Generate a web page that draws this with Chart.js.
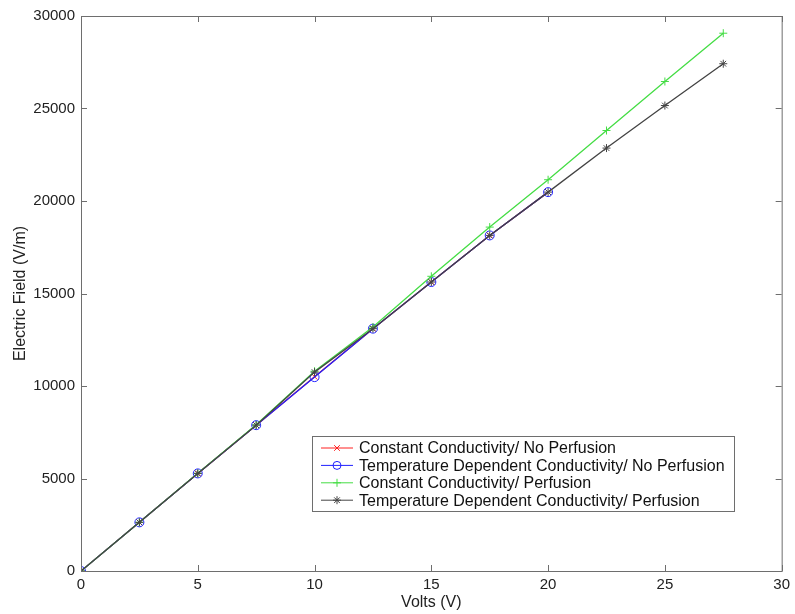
<!DOCTYPE html>
<html>
<head>
<meta charset="utf-8">
<script src="https://cdn.jsdelivr.net/npm/chart.js@4.4.1/dist/chart.umd.min.js"></script>
<style>
  html, body { margin: 0; padding: 0; background: #fff; }
  #fieldChart { display: block; }
</style>
</head>
<body>
<canvas id="fieldChart" width="795" height="614"></canvas>
<script>
// volts applied (x) and electric field (V/m)
const volts = [0, 2.5, 5, 7.5, 10, 12.5, 15, 17.5, 20, 22.5, 25, 27.5];
const constNoPerf = [0, 2630, 5276, 7884, 10500, 13100, 15620, 18140, 20480];
const tempNoPerf = [0, 2630, 5276, 7884, 10480, 13100, 15620, 18140, 20480];
const constPerf = [0, 2630, 5280, 7900, 10800, 13190, 15930, 18590, 21150, 23810, 26460, 29070];
const tempPerf = [0, 2630, 5276, 7884, 10750, 13100, 15620, 18140, 20480, 22860, 25160, 27420];

const seriesNames = [
    'Constant Conductivity/ No Perfusion',
    'Temperature Dependent Conductivity/ No Perfusion',
    'Constant Conductivity/ Perfusion',
    'Temperature Dependent Conductivity/ Perfusion'
];
const xTicks = [0, 5, 10, 15, 20, 25, 30];
const yTicks = [0, 5000, 10000, 15000, 20000, 25000, 30000];

const colors = ['#ff2020', '#2020ff', '#45dd45', '#444444'];
const markers = ['crossRot', 'circle', 'cross', 'star'];

function toPoints(ys) {
    return ys.map((y, i) => ({ x: volts[i], y: y }));
}

const allSeries = [constNoPerf, tempNoPerf, constPerf, tempPerf];

Chart.defaults.font.family = '"Liberation Sans", Arial, sans-serif';
Chart.defaults.font.size = 15;
Chart.defaults.color = '#222';

// matlab style: closed box with inward ticks on all four sides
const boxPlugin = {
    id: 'boxPlugin',
    afterDraw(chart) {
        const ctx = chart.ctx;
        const a = chart.chartArea;
        const xs = chart.scales.x, ys = chart.scales.y;
        ctx.save();
        ctx.strokeStyle = '#6e6e6e';
        ctx.lineWidth = 1;
        ctx.strokeRect(a.left + 0.5, a.top + 0.5, a.right - a.left, a.bottom - a.top);
        ctx.beginPath();
        xTicks.forEach(v => {
            const px = Math.round(xs.getPixelForValue(v)) + 0.5;
            ctx.moveTo(px, a.bottom); ctx.lineTo(px, a.bottom - 6);
            ctx.moveTo(px, a.top); ctx.lineTo(px, a.top + 6);
        });
        yTicks.forEach(v => {
            const py = Math.round(ys.getPixelForValue(v)) + 0.5;
            ctx.moveTo(a.left, py); ctx.lineTo(a.left + 6, py);
            ctx.moveTo(a.right, py); ctx.lineTo(a.right - 6, py);
        });
        ctx.stroke();
        ctx.restore();
    }
};

function drawMarker(ctx, style, x, y, r) {
    ctx.beginPath();
    if (style === 'circle') {
        ctx.arc(x, y, r, 0, Math.PI * 2);
    } else {
        if (style === 'cross' || style === 'star') {
            ctx.moveTo(x - r, y); ctx.lineTo(x + r, y);
            ctx.moveTo(x, y - r); ctx.lineTo(x, y + r);
        }
        if (style === 'crossRot' || style === 'star') {
            const d = r * 0.707;
            ctx.moveTo(x - d, y - d); ctx.lineTo(x + d, y + d);
            ctx.moveTo(x - d, y + d); ctx.lineTo(x + d, y - d);
        }
    }
    ctx.stroke();
}

// legend box sitting inside the axes, lower right
const legendPlugin = {
    id: 'legendPlugin',
    afterDraw(chart) {
        const ctx = chart.ctx;
        const bx = 312, by = 436, bw = 422, bh = 75;
        ctx.save();
        ctx.fillStyle = '#fff';
        ctx.fillRect(bx, by, bw, bh);
        ctx.strokeStyle = '#6e6e6e';
        ctx.lineWidth = 1;
        ctx.strokeRect(bx + 0.5, by + 0.5, bw, bh);
        ctx.font = '16px "Liberation Sans", Arial, sans-serif';
        ctx.textBaseline = 'middle';
        seriesNames.forEach((name, i) => {
            const y = by + 12 + i * 17.4;
            ctx.strokeStyle = colors[i];
            ctx.beginPath();
            ctx.moveTo(bx + 9, y); ctx.lineTo(bx + 41, y);
            ctx.stroke();
            drawMarker(ctx, markers[i], bx + 25, y, 4);
            ctx.fillStyle = '#111';
            ctx.fillText(name, bx + 47, y + 1);
        });
        ctx.restore();
    }
};

new Chart(document.getElementById('fieldChart'), {
    type: 'line',
    data: {
        datasets: allSeries.map((ys, i) => ({
            label: seriesNames[i],
            data: toPoints(ys),
            borderColor: colors[i],
            backgroundColor: 'transparent',
            borderWidth: 1.3,
            pointStyle: markers[i],
            pointRadius: markers[i] === 'circle' ? 4.5 : 4,
            pointBorderColor: colors[i],
            pointBackgroundColor: 'transparent',
            pointBorderWidth: 1,
            tension: 0,
            order: 3 - i
        }))
    },
    options: {
        responsive: false,
        animation: false,
        events: [],
        layout: { padding: { top: 16, right: 10, left: 0, bottom: 0 } },
        plugins: {
            legend: { display: false },
            tooltip: { enabled: false }
        },
        scales: {
            x: {
                type: 'linear',
                min: 0,
                max: 30,
                afterBuildTicks: s => { s.ticks = xTicks.map(v => ({ value: v })); },
                afterFit: s => { s.height = 43; },
                grid: { display: false, drawTicks: false },
                border: { display: false },
                ticks: { padding: 5, callback: v => String(v), maxRotation: 0 },
                title: { display: true, text: 'Volts (V)', font: { size: 16 }, padding: { top: 0, bottom: 2 } }
            },
            y: {
                type: 'linear',
                min: 0,
                max: 30000,
                afterBuildTicks: s => { s.ticks = yTicks.map(v => ({ value: v })); },
                afterFit: s => { s.width = 81; },
                grid: { display: false, drawTicks: false },
                border: { display: false },
                ticks: { padding: 6, callback: v => String(v) },
                title: { display: true, text: 'Electric Field (V/m)', font: { size: 16 }, padding: { top: 11, bottom: 0 } }
            }
        }
    },
    plugins: [boxPlugin, legendPlugin]
});
</script>
</body>
</html>
